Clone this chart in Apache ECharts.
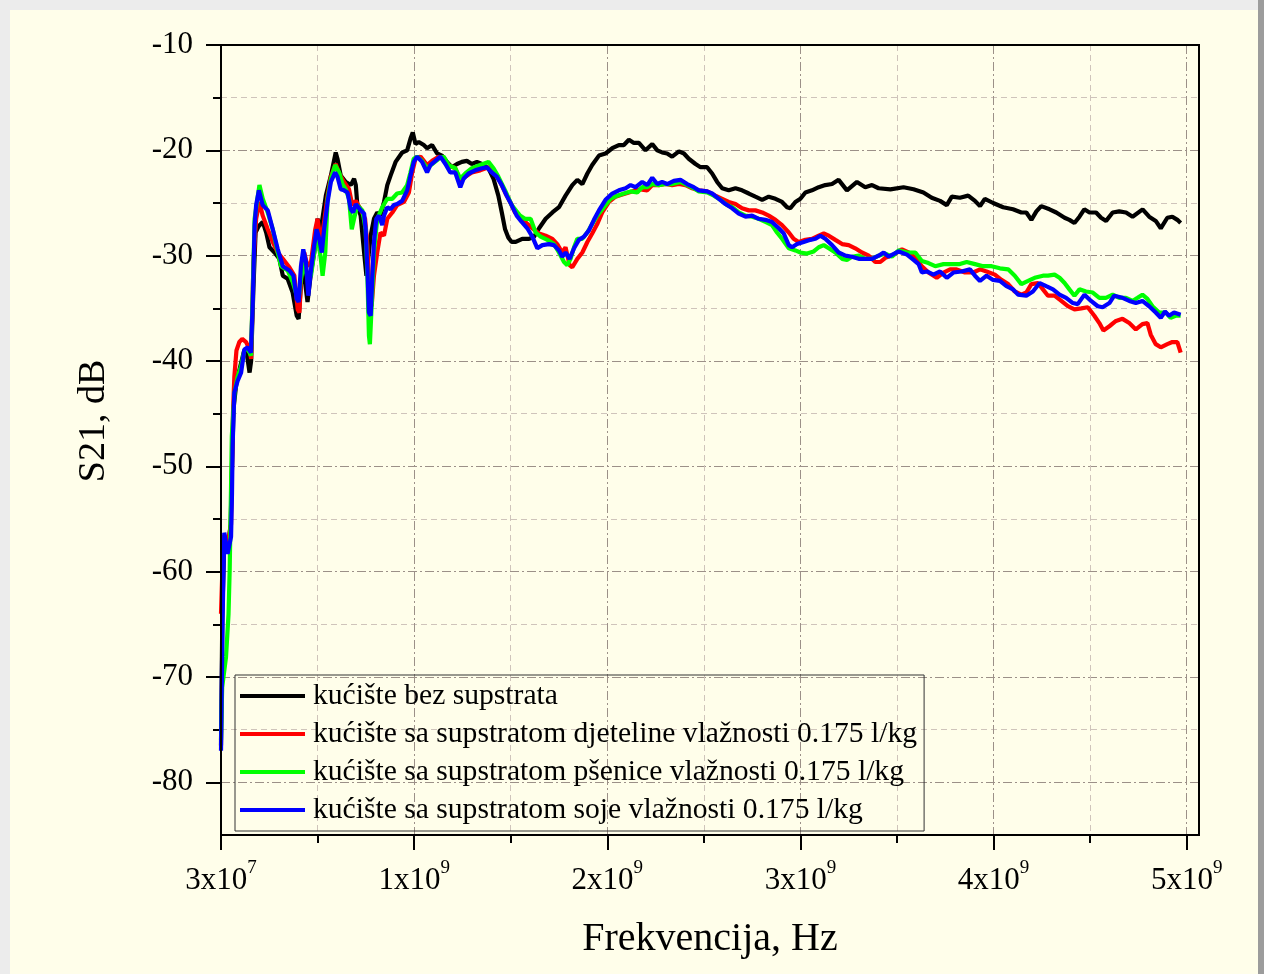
<!DOCTYPE html>
<html><head><meta charset="utf-8">
<script src="https://cdn.jsdelivr.net/npm/echarts@6/dist/echarts.min.js"></script>
<style>
html,body{margin:0;padding:0;width:1264px;height:974px;overflow:hidden;background:#ececec;}
#paper{position:absolute;left:10px;top:10px;width:1248px;height:964px;background:#fffeea;}
#edge{position:absolute;left:1258px;top:0;width:6px;height:974px;background:#9c9c9c;}
#chart{position:absolute;left:0;top:0;width:1264px;height:974px;}
</style></head><body>
<div id="paper"></div><div id="edge"></div><div id="chart"></div>
<script>
const seriesNames = [
  'kućište bez supstrata',
  'kućište sa supstratom djeteline vlažnosti 0.175 l/kg',
  'kućište sa supstratom pšenice vlažnosti 0.175 l/kg',
  'kućište sa supstratom soje vlažnosti 0.175 l/kg'
];
const seriesColors = ['#000000', '#ff0000', '#00ff00', '#0000ff'];

// frequency in GHz, S21 in dB
const bezSupstrata = [[0.03,-76.5],[0.037,-64.0],[0.047,-57.0],[0.064,-58.0],[0.08,-55.5],[0.087,-50.0],[0.095,-44.5],[0.11,-42.0],[0.13,-40.5],[0.15,-39.0],[0.165,-39.5],[0.178,-41.1],[0.186,-40.0],[0.198,-33.0],[0.209,-27.8],[0.225,-27.2],[0.246,-26.8],[0.264,-27.8],[0.281,-29.2],[0.307,-29.7],[0.332,-30.3],[0.35,-31.9],[0.375,-32.2],[0.401,-33.5],[0.422,-35.7],[0.432,-36.0],[0.449,-31.3],[0.461,-31.9],[0.478,-34.4],[0.496,-31.6],[0.513,-29.7],[0.53,-26.5],[0.547,-27.5],[0.573,-24.3],[0.599,-22.4],[0.624,-20.2],[0.633,-20.8],[0.65,-22.4],[0.676,-23.0],[0.702,-23.3],[0.719,-22.7],[0.728,-23.3],[0.736,-25.2],[0.753,-26.2],[0.771,-29.7],[0.783,-31.9],[0.805,-28.1],[0.822,-26.5],[0.839,-25.9],[0.856,-26.2],[0.874,-24.9],[0.891,-23.3],[0.908,-22.4],[0.934,-21.1],[0.968,-20.2],[0.994,-20.0],[1.011,-18.9],[1.023,-18.3],[1.037,-19.4],[1.054,-19.2],[1.08,-19.5],[1.097,-19.8],[1.123,-19.5],[1.149,-20.3],[1.174,-20.5],[1.2,-21.1],[1.226,-21.6],[1.252,-21.3],[1.277,-21.1],[1.303,-21.0],[1.329,-21.3],[1.355,-21.1],[1.381,-21.3],[1.415,-21.7],[1.441,-22.7],[1.466,-24.3],[1.484,-25.9],[1.501,-27.5],[1.518,-28.3],[1.535,-28.7],[1.556,-28.7],[1.59,-28.4],[1.625,-28.4],[1.651,-28.2],[1.677,-27.4],[1.711,-26.5],[1.746,-25.9],[1.78,-25.4],[1.814,-24.3],[1.849,-23.3],[1.875,-22.8],[1.901,-23.2],[1.927,-22.2],[1.952,-21.4],[1.987,-20.5],[2.021,-20.3],[2.056,-19.8],[2.09,-19.5],[2.116,-19.5],[2.142,-19.0],[2.168,-19.3],[2.194,-19.3],[2.228,-20.0],[2.263,-19.4],[2.289,-20.0],[2.314,-20.2],[2.34,-20.3],[2.366,-20.6],[2.401,-20.1],[2.427,-20.3],[2.452,-20.8],[2.487,-21.3],[2.513,-21.6],[2.547,-21.6],[2.573,-22.2],[2.599,-23.0],[2.625,-23.6],[2.659,-23.8],[2.694,-23.6],[2.728,-23.8],[2.763,-24.1],[2.797,-24.4],[2.832,-24.7],[2.866,-24.4],[2.901,-24.6],[2.935,-24.9],[2.961,-25.4],[2.978,-25.5],[3.004,-24.9],[3.03,-24.6],[3.056,-24.0],[3.09,-23.8],[3.125,-23.5],[3.159,-23.3],[3.194,-23.2],[3.228,-22.8],[3.271,-23.8],[3.323,-23.0],[3.366,-23.5],[3.401,-23.3],[3.435,-23.6],[3.496,-23.7],[3.564,-23.5],[3.616,-23.7],[3.667,-24.0],[3.71,-24.5],[3.753,-24.8],[3.788,-25.2],[3.814,-24.4],[3.856,-24.5],[3.899,-24.3],[3.934,-24.8],[3.96,-25.3],[3.985,-24.6],[4.028,-25.0],[4.08,-25.4],[4.131,-25.6],[4.174,-25.9],[4.2,-25.9],[4.226,-26.6],[4.252,-25.8],[4.277,-25.3],[4.32,-25.6],[4.355,-25.9],[4.398,-26.4],[4.423,-26.6],[4.449,-26.9],[4.475,-26.3],[4.5,-25.6],[4.527,-25.9],[4.561,-25.9],[4.587,-26.4],[4.613,-26.7],[4.647,-25.9],[4.681,-25.8],[4.716,-25.9],[4.75,-26.3],[4.802,-25.6],[4.836,-26.3],[4.87,-26.7],[4.896,-27.4],[4.93,-26.4],[4.956,-26.3],[4.982,-26.6],[4.999,-26.9]];

const djeteline = [[0.03,-64.0],[0.036,-60.5],[0.047,-56.5],[0.064,-57.5],[0.082,-55.5],[0.087,-50.0],[0.092,-45.0],[0.099,-41.5],[0.11,-39.0],[0.125,-38.2],[0.14,-37.9],[0.16,-38.2],[0.178,-38.9],[0.186,-39.8],[0.198,-30.6],[0.212,-26.5],[0.229,-24.9],[0.246,-26.2],[0.272,-27.5],[0.298,-28.7],[0.324,-29.7],[0.35,-30.3],[0.384,-31.1],[0.41,-31.9],[0.427,-35.1],[0.436,-35.4],[0.449,-30.6],[0.461,-29.7],[0.478,-31.0],[0.496,-30.6],[0.518,-27.5],[0.53,-26.5],[0.547,-28.7],[0.564,-26.8],[0.582,-24.3],[0.599,-22.5],[0.624,-21.3],[0.642,-22.2],[0.667,-23.0],[0.693,-23.7],[0.71,-25.2],[0.728,-24.8],[0.753,-25.6],[0.776,-26.5],[0.788,-29.0],[0.8,-33.5],[0.81,-34.8],[0.822,-31.9],[0.839,-29.7],[0.856,-27.8],[0.874,-28.1],[0.891,-26.5],[0.917,-25.9],[0.942,-25.2],[0.977,-24.9],[1.003,-24.0],[1.02,-22.1],[1.037,-20.8],[1.063,-20.6],[1.08,-21.0],[1.097,-21.4],[1.123,-21.0],[1.157,-20.6],[1.183,-20.8],[1.209,-21.4],[1.243,-21.7],[1.269,-22.9],[1.295,-22.5],[1.329,-22.1],[1.372,-21.9],[1.415,-21.6],[1.449,-22.2],[1.475,-23.0],[1.501,-24.0],[1.527,-24.9],[1.552,-25.9],[1.587,-26.5],[1.642,-27.4],[1.677,-27.9],[1.711,-28.1],[1.746,-28.4],[1.771,-28.9],[1.797,-29.7],[1.814,-29.2],[1.835,-30.9],[1.849,-31.1],[1.875,-30.3],[1.901,-29.7],[1.927,-28.7],[1.952,-27.9],[1.978,-27.0],[2.004,-25.9],[2.039,-24.9],[2.073,-24.4],[2.108,-24.2],[2.142,-24.0],[2.177,-23.8],[2.202,-23.7],[2.237,-23.8],[2.263,-23.3],[2.297,-23.3],[2.332,-23.2],[2.366,-23.3],[2.401,-23.2],[2.435,-23.3],[2.47,-23.6],[2.504,-23.8],[2.547,-23.9],[2.59,-24.3],[2.625,-24.6],[2.659,-24.9],[2.694,-25.1],[2.728,-25.5],[2.763,-25.7],[2.797,-25.7],[2.832,-25.9],[2.866,-26.2],[2.901,-26.6],[2.935,-27.1],[2.97,-27.8],[2.995,-28.4],[3.021,-28.7],[3.056,-28.5],[3.09,-28.4],[3.125,-28.1],[3.151,-27.9],[3.177,-28.1],[3.211,-28.5],[3.246,-28.9],[3.28,-29.0],[3.314,-29.3],[3.349,-29.7],[3.384,-30.0],[3.418,-30.6],[3.444,-30.6],[3.47,-30.2],[3.513,-29.9],[3.556,-29.4],[3.59,-29.7],[3.625,-30.2],[3.659,-31.0],[3.693,-31.6],[3.736,-32.1],[3.771,-31.6],[3.805,-31.3],[3.839,-31.3],[3.882,-31.6],[3.925,-31.6],[3.96,-31.3],[3.994,-31.5],[4.037,-31.8],[4.071,-32.3],[4.106,-32.7],[4.14,-33.4],[4.174,-33.7],[4.2,-33.5],[4.226,-32.7],[4.26,-32.6],[4.286,-33.2],[4.312,-33.8],[4.346,-33.8],[4.381,-34.3],[4.415,-34.8],[4.449,-35.1],[4.484,-35.0],[4.518,-34.9],[4.552,-35.7],[4.578,-36.4],[4.599,-37.1],[4.63,-36.7],[4.664,-36.2],[4.698,-36.0],[4.733,-36.4],[4.767,-37.0],[4.801,-36.5],[4.827,-36.4],[4.844,-37.5],[4.87,-38.4],[4.896,-38.7],[4.93,-38.4],[4.956,-38.2],[4.982,-38.2],[4.999,-39.2]];

const psenice = [[0.03,-76.0],[0.036,-71.0],[0.056,-68.1],[0.069,-64.0],[0.075,-59.8],[0.082,-51.9],[0.086,-47.1],[0.1,-43.0],[0.116,-41.5],[0.134,-40.5],[0.151,-39.0],[0.168,-38.8],[0.185,-39.5],[0.195,-33.0],[0.204,-26.5],[0.229,-23.3],[0.246,-24.6],[0.272,-25.9],[0.298,-27.5],[0.324,-29.7],[0.341,-31.0],[0.375,-31.4],[0.401,-32.5],[0.418,-33.5],[0.432,-34.1],[0.444,-32.2],[0.461,-30.6],[0.478,-32.2],[0.496,-31.9],[0.513,-29.7],[0.525,-27.5],[0.547,-30.3],[0.556,-31.9],[0.57,-29.7],[0.582,-24.6],[0.599,-22.7],[0.621,-21.4],[0.642,-22.1],[0.659,-23.2],[0.676,-23.7],[0.693,-24.6],[0.707,-27.5],[0.719,-26.5],[0.736,-25.2],[0.762,-25.7],[0.779,-27.5],[0.788,-31.9],[0.796,-37.6],[0.801,-38.4],[0.81,-34.8],[0.822,-29.7],[0.839,-26.5],[0.865,-25.4],[0.891,-24.6],[0.917,-24.6],[0.942,-24.1],[0.968,-24.0],[0.994,-23.3],[1.011,-22.1],[1.028,-20.8],[1.045,-20.6],[1.071,-21.0],[1.097,-21.7],[1.123,-21.3],[1.157,-20.8],[1.183,-20.6],[1.209,-21.4],[1.243,-21.7],[1.269,-22.7],[1.295,-22.2],[1.329,-21.7],[1.372,-21.4],[1.415,-21.1],[1.441,-21.7],[1.466,-22.5],[1.501,-23.8],[1.535,-25.2],[1.578,-26.2],[1.604,-26.5],[1.633,-26.5],[1.659,-27.8],[1.685,-28.2],[1.72,-28.5],[1.754,-28.9],[1.78,-29.7],[1.806,-30.6],[1.823,-30.9],[1.84,-30.3],[1.858,-29.2],[1.875,-28.4],[1.901,-28.4],[1.927,-27.8],[1.952,-27.0],[1.978,-26.2],[2.013,-25.4],[2.047,-24.6],[2.082,-24.3],[2.116,-24.1],[2.151,-23.9],[2.185,-24.0],[2.211,-23.5],[2.237,-23.5],[2.263,-23.2],[2.297,-23.3],[2.332,-23.2],[2.366,-23.2],[2.409,-23.0],[2.444,-23.3],[2.478,-23.6],[2.504,-23.9],[2.547,-24.0],[2.582,-24.3],[2.616,-24.7],[2.651,-25.2],[2.677,-25.4],[2.711,-25.9],[2.746,-26.2],[2.78,-26.3],[2.814,-26.5],[2.849,-26.8],[2.883,-27.1],[2.909,-27.8],[2.935,-28.4],[2.97,-29.3],[3.004,-29.5],[3.03,-29.7],[3.064,-29.8],[3.099,-29.6],[3.125,-29.2],[3.151,-29.0],[3.177,-29.3],[3.211,-29.7],[3.246,-30.3],[3.271,-30.4],[3.297,-30.1],[3.332,-30.0],[3.366,-30.3],[3.401,-30.3],[3.435,-30.0],[3.47,-29.8],[3.504,-30.1],[3.539,-29.5],[3.582,-29.7],[3.625,-29.7],[3.659,-30.5],[3.693,-30.7],[3.728,-31.0],[3.771,-30.8],[3.814,-30.8],[3.856,-30.8],[3.891,-30.6],[3.934,-30.8],[3.977,-31.0],[4.02,-31.0],[4.063,-31.2],[4.106,-31.3],[4.14,-31.9],[4.174,-32.7],[4.209,-32.4],[4.243,-32.1],[4.286,-31.9],[4.312,-31.9],[4.346,-31.8],[4.372,-32.1],[4.398,-32.6],[4.423,-33.2],[4.449,-33.8],[4.475,-33.2],[4.509,-33.4],[4.544,-33.5],[4.578,-34.0],[4.612,-34.0],[4.647,-33.7],[4.681,-34.0],[4.716,-34.0],[4.75,-34.3],[4.776,-34.0],[4.801,-33.7],[4.827,-34.1],[4.853,-34.8],[4.887,-35.4],[4.922,-35.4],[4.947,-35.9],[4.973,-35.7],[4.999,-35.7]];

const soje = [[0.03,-77.0],[0.038,-64.6],[0.047,-56.3],[0.064,-58.3],[0.082,-56.7],[0.087,-52.5],[0.09,-48.1],[0.099,-43.0],[0.116,-41.9],[0.134,-41.1],[0.151,-38.9],[0.168,-38.7],[0.185,-39.2],[0.195,-34.1],[0.204,-27.1],[0.212,-25.2],[0.226,-23.8],[0.246,-25.2],[0.272,-25.7],[0.298,-27.5],[0.324,-29.4],[0.35,-31.0],[0.384,-31.4],[0.405,-31.9],[0.422,-34.1],[0.432,-34.4],[0.444,-31.0],[0.456,-29.4],[0.47,-30.6],[0.482,-33.8],[0.496,-31.3],[0.513,-29.0],[0.525,-27.5],[0.539,-28.4],[0.552,-29.7],[0.564,-27.5],[0.582,-24.9],[0.599,-23.0],[0.621,-22.1],[0.633,-22.5],[0.65,-23.7],[0.667,-23.8],[0.685,-24.0],[0.702,-25.6],[0.714,-25.9],[0.728,-25.1],[0.753,-25.7],[0.771,-26.0],[0.779,-27.5],[0.788,-31.3],[0.796,-35.4],[0.805,-35.7],[0.813,-32.2],[0.822,-28.7],[0.834,-26.5],[0.848,-26.2],[0.865,-27.1],[0.874,-26.2],[0.891,-25.4],[0.908,-25.6],[0.925,-25.2],[0.942,-25.1],[0.968,-24.8],[0.994,-23.8],[1.011,-22.4],[1.028,-21.1],[1.045,-20.6],[1.071,-21.1],[1.097,-22.1],[1.114,-21.4],[1.14,-21.0],[1.166,-20.6],[1.192,-21.3],[1.217,-22.1],[1.243,-22.1],[1.269,-23.5],[1.286,-22.7],[1.312,-22.2],[1.346,-21.9],[1.381,-21.7],[1.406,-21.6],[1.432,-22.1],[1.458,-22.5],[1.484,-23.3],[1.509,-24.3],[1.535,-25.2],[1.561,-26.2],[1.587,-26.8],[1.616,-27.4],[1.642,-28.2],[1.668,-29.3],[1.694,-29.0],[1.728,-28.9],[1.754,-29.0],[1.78,-29.5],[1.797,-30.1],[1.814,-29.7],[1.835,-30.3],[1.858,-29.3],[1.883,-28.5],[1.909,-28.2],[1.935,-27.6],[1.961,-26.6],[1.987,-25.7],[2.021,-24.7],[2.056,-24.1],[2.09,-23.8],[2.125,-23.6],[2.151,-23.3],[2.177,-23.5],[2.211,-23.0],[2.237,-23.3],[2.263,-22.6],[2.289,-23.2],[2.314,-23.0],[2.34,-23.2],[2.375,-22.9],[2.409,-22.8],[2.444,-23.2],[2.478,-23.5],[2.504,-23.8],[2.547,-23.9],[2.573,-24.1],[2.608,-24.6],[2.642,-25.1],[2.677,-25.5],[2.711,-26.0],[2.746,-26.3],[2.78,-26.2],[2.814,-26.5],[2.849,-26.6],[2.883,-26.8],[2.918,-27.4],[2.944,-27.9],[2.97,-29.0],[2.987,-29.2],[3.013,-28.9],[3.047,-28.7],[3.082,-28.5],[3.108,-28.4],[3.133,-28.1],[3.159,-28.4],[3.194,-29.0],[3.228,-29.7],[3.263,-30.0],[3.297,-30.1],[3.332,-30.3],[3.366,-30.3],[3.401,-30.3],[3.435,-30.0],[3.461,-29.7],[3.487,-30.1],[3.539,-29.6],[3.582,-29.9],[3.616,-30.4],[3.642,-30.8],[3.659,-31.6],[3.685,-31.5],[3.719,-31.8],[3.753,-31.5],[3.788,-32.1],[3.822,-31.6],[3.865,-31.5],[3.908,-31.3],[3.934,-31.9],[3.96,-32.4],[3.994,-31.9],[4.028,-32.3],[4.063,-32.4],[4.097,-32.9],[4.131,-33.2],[4.157,-33.7],[4.2,-33.8],[4.234,-33.4],[4.269,-32.6],[4.303,-32.9],[4.338,-33.2],[4.372,-33.7],[4.406,-34.0],[4.441,-34.5],[4.466,-34.6],[4.501,-33.7],[4.535,-34.3],[4.57,-34.8],[4.595,-34.9],[4.63,-34.5],[4.655,-33.8],[4.698,-34.0],[4.733,-34.3],[4.767,-34.5],[4.801,-34.3],[4.836,-34.8],[4.87,-35.4],[4.896,-35.9],[4.918,-35.3],[4.939,-35.7],[4.965,-35.4],[4.999,-35.6]];

const xMajorTicks = [0.03, 1.03, 2.03, 3.03, 4.03, 5.03];
const xMinorTicks = [0.53, 1.53, 2.53, 3.53, 4.53];
const xTickBase = ['3x10', '1x10', '2x10', '3x10', '4x10', '5x10'];
const xTickExp = ['7', '9', '9', '9', '9', '9'];
const yMajorTicks = [-80, -70, -60, -50, -40, -30, -20, -10];
const yMinorTicks = [-75, -65, -55, -45, -35, -25, -15];
const xRange = [0.03, 5.094];
const yRange = [-85, -10];

const FONT = "'Liberation Serif', 'Times New Roman', serif";
const majorGrid = { color: '#9c9088', width: 1, type: [9, 3, 2, 3] };
const minorGrid = { color: '#cfc4bb', width: 1, type: [6, 4] };

const chart = echarts.init(document.getElementById('chart'), null, { renderer: 'canvas' });
const allData = [bezSupstrata, djeteline, psenice, soje];

const option = {
  animation: false,
  backgroundColor: 'transparent',
  grid: { left: 221, top: 45, right: 65, bottom: 139, show: true, z: 8, borderColor: '#000', borderWidth: 2, backgroundColor: 'transparent' },
  xAxis: [
    {
      type: 'value', min: xRange[0], max: xRange[1], gridIndex: 0, position: 'bottom',
      name: 'Frekvencija, Hz', nameLocation: 'middle', nameGap: 84,
      nameTextStyle: { fontFamily: FONT, fontSize: 40, color: '#000' },
      axisLine: { show: true, onZero: false, lineStyle: { color: '#000', width: 2 } },
      axisTick: { show: true, inside: false, length: 15, customValues: xMajorTicks, lineStyle: { color: '#000', width: 2 } },
      axisLabel: {
        show: true, margin: 24, customValues: xMajorTicks,
        formatter: function (v) {
          let idx = 0, best = 1e9;
          xMajorTicks.forEach(function (t, i) { if (Math.abs(t - v) < best) { best = Math.abs(t - v); idx = i; } });
          return '{b|' + xTickBase[idx] + '}{s|' + xTickExp[idx] + '}';
        },
        rich: {
          b: { fontFamily: FONT, fontSize: 31, color: '#000', lineHeight: 44 },
          s: { fontFamily: FONT, fontSize: 19, color: '#000', lineHeight: 19, verticalAlign: 'top' }
        }
      },
      splitLine: { show: true, lineStyle: majorGrid }
    },
    {
      type: 'value', min: xRange[0], max: xRange[1], gridIndex: 0, position: 'bottom',
      axisLine: { show: false, onZero: false },
      axisTick: { show: true, inside: false, length: 8, customValues: xMinorTicks, lineStyle: { color: '#000', width: 2 } },
      axisLabel: { show: false, customValues: xMinorTicks },
      splitLine: { show: true, lineStyle: minorGrid }
    }
  ],
  yAxis: [
    {
      type: 'value', min: yRange[0], max: yRange[1], gridIndex: 0, position: 'left',
      name: 'S21, dB', nameLocation: 'middle', nameGap: 108,
      nameTextStyle: { fontFamily: FONT, fontSize: 38, color: '#000', padding: [0, 0, 0, 38] },
      axisLine: { show: true, onZero: false, lineStyle: { color: '#000', width: 2 } },
      axisTick: { show: true, inside: false, length: 15, customValues: yMajorTicks, lineStyle: { color: '#000', width: 2 } },
      axisLabel: { show: true, margin: 28, customValues: yMajorTicks, fontFamily: FONT, fontSize: 31, color: '#000' },
      splitLine: { show: true, lineStyle: majorGrid }
    },
    {
      type: 'value', min: yRange[0], max: yRange[1], gridIndex: 0, position: 'left',
      axisLine: { show: false, onZero: false },
      axisTick: { show: true, inside: false, length: 8, customValues: yMinorTicks, lineStyle: { color: '#000', width: 2 } },
      axisLabel: { show: false, customValues: yMinorTicks },
      splitLine: { show: true, lineStyle: minorGrid }
    }
  ],
  legend: {
    show: true, orient: 'vertical', left: 235, top: 675,
    padding: [6, 7, 6, 5], itemGap: 8, itemWidth: 65, itemHeight: 4,
    borderColor: '#333', borderWidth: 1, backgroundColor: 'transparent',
    icon: 'rect', z: 9,
    textStyle: { fontFamily: FONT, fontSize: 29.6, color: '#000', padding: [0, 0, 0, 3] },
    data: seriesNames
  },
  series: seriesNames.map(function (name, i) {
    return {
      name: name, type: 'line', xAxisIndex: 0, yAxisIndex: 0,
      data: allData[i], showSymbol: false, symbol: 'none',
      lineStyle: { color: seriesColors[i], width: 4.2 },
      itemStyle: { color: seriesColors[i] },
      z: 3 + i
    };
  })
};
chart.setOption(option);
</script>
</body></html>
